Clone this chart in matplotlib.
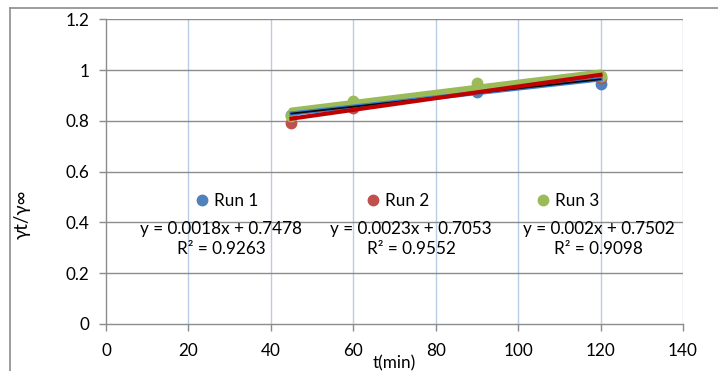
import matplotlib
matplotlib.use("Agg")
import matplotlib.pyplot as plt
from matplotlib.lines import Line2D
import numpy as np

plt.rcParams['font.family'] = ['Lato', 'DejaVu Sans']

# ---- data ----
t = [45, 60, 90, 120]
run1 = [0.825, 0.86, 0.915, 0.945]
run2 = [0.79, 0.85, 0.925, 0.97]
run3 = [0.82, 0.88, 0.95, 0.975]
series_names = ["Run 1", "Run 2", "Run 3"]
slopes = [0.0018, 0.0023, 0.002]
intercepts = [0.7478, 0.7053, 0.7502]
eq_labels = ["y = 0.0018x + 0.7478\nR² = 0.9263",
             "y = 0.0023x + 0.7053\nR² = 0.9552",
             "y = 0.002x + 0.7502\nR² = 0.9098"]
xticks = [0, 20, 40, 60, 80, 100, 120, 140]
yticks = [0, 0.2, 0.4, 0.6, 0.8, 1.0, 1.2]
ytick_labels = ["0", "0.2", "0.4", "0.6", "0.8", "1", "1.2"]

marker_colors = ['#4F81BD', '#C0504D', '#9BBB59']
FS = 12.3

fig = plt.figure(figsize=(7.18, 3.71), dpi=100)
# outer frame lines
fig.add_artist(Line2D([10/718, 10/718], [0, 1 - 8/371], color='#8c8c8c', lw=1.2))
fig.add_artist(Line2D([10/718, 1], [1 - 8/371, 1 - 8/371], color='#8c8c8c', lw=1.2))

ax = fig.add_axes([106/718, 1 - 324/371, (683 - 106)/718, (324 - 19.3)/371])

ax.set_xlim(0, 140)
ax.set_ylim(0, 1.2)
ax.set_xticks(xticks)
ax.set_yticks(yticks)
ax.set_yticklabels(ytick_labels)

# grid
for yv in yticks[1:]:
    ax.axhline(yv, color='#8c8c8c', lw=1.0, zorder=1)
for xv in xticks[1:]:
    ax.axvline(xv, color='#B9CDE5', lw=1.0, zorder=0.9)

for s in ['top', 'right']:
    ax.spines[s].set_visible(False)
for s in ['left', 'bottom']:
    ax.spines[s].set_color('#8c8c8c')
    ax.spines[s].set_linewidth(1.0)
ax.tick_params(axis='both', colors='#8c8c8c', labelcolor='black', labelsize=FS,
               length=5, width=1.0)
ax.tick_params(axis='y', pad=7)
ax.tick_params(axis='x', pad=9)

data = [run1, run2, run3]
for vals, c, name in zip(data, marker_colors, series_names):
    ax.plot(t, vals, 'o', color=c, markersize=7.5, label=name, zorder=3, clip_on=False)

xfit = np.array([min(t), max(t)])
# green trendline (under), then blue, then red
ax.plot(xfit, slopes[2] * xfit + intercepts[2], color='#9BBB59', lw=4.5, zorder=4,
        solid_capstyle='round')
ax.plot(xfit, slopes[0] * xfit + intercepts[0], color='#3C7FD0', lw=3.2, zorder=5)
ax.plot(xfit, slopes[0] * xfit + intercepts[0], color='#0a0a0a', lw=1.3, zorder=5.5)
ax.plot(xfit, slopes[1] * xfit + intercepts[1], color='#C00000', lw=3.0, zorder=6)

# equation labels
eq_x = [27.9, 74.0, 119.6]
for x, lab in zip(eq_x, eq_labels):
    ax.text(x, 0.334, lab, ha='center', va='center', fontsize=FS,
            linespacing=1.3, zorder=7)

handles = [Line2D([], [], marker='o', ls='', color=c, markersize=7.5) for c in marker_colors]
ax.legend(handles, series_names, loc='center', bbox_to_anchor=(0.505, 0.405), ncol=3,
          frameon=False, fontsize=FS, handlelength=0.8, handletextpad=0.3,
          columnspacing=6.3)

ax.set_xlabel("t(min)", fontsize=FS, labelpad=-3)
ax.set_ylabel("γt/γ∞", fontsize=13.5)
ax.yaxis.set_label_coords(-0.13, 0.36)

fig.savefig("out.png", dpi=100)
